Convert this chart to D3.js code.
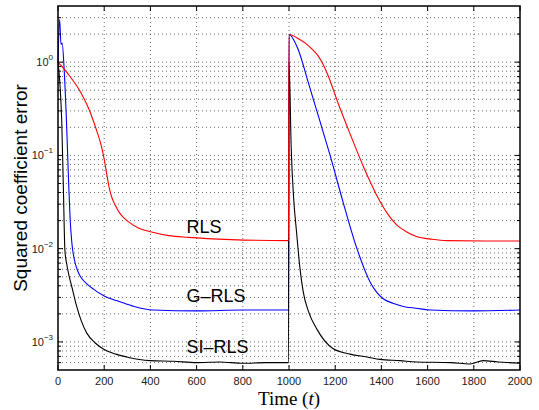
<!DOCTYPE html>
<html>
<head>
<meta charset="utf-8">
<script src="https://d3js.org/d3.v7.min.js"></script>
<style>
  body { margin: 0; background: #fff; }
  text { font-family: "Liberation Sans", Arial, sans-serif; }
</style>
</head>
<body>
<div id="chart"></div>
<script>
// data (time, squared coefficient error)
var rlsT = [0, 45, 95, 124, 143, 172, 190, 200, 210, 220, 232, 247, 265, 285, 304, 350, 405, 480, 564, 750, 998,
            1000, 1035, 1069, 1100, 1127, 1150, 1170, 1213, 1271, 1322, 1394, 1430, 1466, 1510, 1552, 1620, 1682, 1850, 2000];
var rlsV = [1.0, 0.74, 0.49, 0.355, 0.275, 0.17, 0.12, 0.091, 0.065, 0.047, 0.036, 0.0295, 0.0245, 0.0214, 0.0195, 0.0166, 0.0151, 0.0138, 0.0132, 0.0125, 0.0122,
            1.98, 1.82, 1.61, 1.38, 1.16, 0.92, 0.71, 0.36, 0.155, 0.076, 0.032, 0.023, 0.018, 0.0151, 0.0135, 0.0126, 0.0122, 0.0121, 0.0121];

var grlsT = [0, 7, 13, 18, 27, 38, 45, 52, 60, 70, 85, 100, 125, 152, 200, 268, 330, 411, 600, 800, 998,
             1000, 1040, 1084, 1127, 1178, 1235, 1293, 1351, 1380, 1408, 1450, 1495, 1550, 1610, 1800, 2000];
var grlsV = [1.0, 2.86, 1.55, 1.6, 0.8, 0.19, 0.06, 0.022, 0.0115, 0.0078, 0.0058, 0.0049, 0.0042, 0.0037, 0.0031, 0.0027, 0.0024, 0.0022, 0.00215, 0.0022, 0.0022,
             1.98, 1.36, 0.6, 0.265, 0.1, 0.031, 0.0102, 0.0044, 0.0034, 0.0029, 0.0026, 0.0024, 0.0023, 0.0022, 0.00215, 0.0022];

var sirlsT = [0, 8, 16, 23, 30, 38, 48, 60, 81, 100, 124, 160, 200, 250, 297, 398, 500, 600, 700, 800, 900, 998,
              1000, 1010, 1020, 1033, 1047, 1062, 1085, 1120, 1190, 1264, 1338, 1394, 1480, 1552, 1700, 1784, 1840, 1905, 2000];
var sirlsV = [1.0, 0.6, 0.24, 0.048, 0.0095, 0.0068, 0.0051, 0.0039, 0.0024, 0.0017, 0.00125, 0.00098, 0.00083, 0.00074, 0.00069, 0.00063, 0.00062, 0.0006, 0.00061, 0.00059, 0.0006, 0.0006,
              1.0, 0.11, 0.035, 0.0148, 0.0063, 0.0034, 0.0021, 0.00138, 0.00085, 0.00074, 0.00069, 0.00065, 0.00063, 0.00061, 0.0006, 0.00058, 0.00063, 0.00061, 0.00059];

var xTicks = [0, 200, 400, 600, 800, 1000, 1200, 1400, 1600, 1800, 2000];
var yMajor = [1e-3, 1e-2, 1e-1, 1];
var yLabels = ['\u22123', '\u22122', '\u22121', '0'];
var seriesNames = ['RLS', 'G\u2013RLS', 'SI\u2013RLS'];

// set up svg
var svgWidth = 539;
var svgHeight = 410;
var margin = { top: 6, right: 19, bottom: 40, left: 58 };
var width = svgWidth - margin.left - margin.right;
var height = svgHeight - margin.top - margin.bottom;

var svg = d3.select('#chart')
    .append('svg')
    .attr('width', svgWidth)
    .attr('height', svgHeight);

var chartGroup = svg.append('g')
    .attr('transform', `translate(${margin.left},${margin.top})`);

var xScale = d3.scaleLinear().domain([0, 2000]).range([0, width]);
var yScale = d3.scaleLog().domain([5e-4, 4]).range([height, 0]);

// minor log values inside the domain
var yMinor = [];
[1e-4, 1e-3, 1e-2, 1e-1, 1].forEach(function(d){
    for (var k = 2; k <= 9; k++) {
        var v = d * k;
        if (v > 5e-4 && v < 4) yMinor.push(v);
    }
});

// grid
var grid = chartGroup.append('g')
    .attr('stroke', '#444')
    .attr('stroke-width', 0.8)
    .attr('stroke-dasharray', '1,3');
grid.selectAll('.gx')
    .data(xTicks.slice(1, -1))
    .enter().append('line')
    .attr('x1', d => xScale(d)).attr('x2', d => xScale(d))
    .attr('y1', 0).attr('y2', height);
grid.selectAll('.gy')
    .data(yMajor.concat(yMinor))
    .enter().append('line')
    .attr('x1', 0).attr('x2', width)
    .attr('y1', d => yScale(d)).attr('y2', d => yScale(d));

// curves
var line = d3.line()
    .x(d => xScale(d[0]))
    .y(d => yScale(d[1]))
    .curve(d3.curveMonotoneX);

var series = [
    { t: grlsT, v: grlsV, color: '#0000ff' },
    { t: sirlsT, v: sirlsV, color: '#000000' },
    { t: rlsT, v: rlsV, color: '#ff0000' }
];
series.forEach(function(s){
    chartGroup.append('path')
        .datum(s.t.map((t, i) => [t, s.v[i]]))
        .attr('fill', 'none')
        .attr('stroke', s.color)
        .attr('stroke-width', 1.1)
        .attr('d', line);
});

// ticks (inside, on all four sides)
var ticks = chartGroup.append('g').attr('stroke', '#000').attr('stroke-width', 1);
xTicks.forEach(function(d){
    ticks.append('line').attr('x1', xScale(d)).attr('x2', xScale(d)).attr('y1', height).attr('y2', height - 5);
    ticks.append('line').attr('x1', xScale(d)).attr('x2', xScale(d)).attr('y1', 0).attr('y2', 5);
});
yMajor.forEach(function(d){
    ticks.append('line').attr('x1', 0).attr('x2', 5).attr('y1', yScale(d)).attr('y2', yScale(d));
    ticks.append('line').attr('x1', width).attr('x2', width - 5).attr('y1', yScale(d)).attr('y2', yScale(d));
});
yMinor.forEach(function(d){
    ticks.append('line').attr('x1', 0).attr('x2', 3).attr('y1', yScale(d)).attr('y2', yScale(d));
    ticks.append('line').attr('x1', width).attr('x2', width - 3).attr('y1', yScale(d)).attr('y2', yScale(d));
});

// frame
chartGroup.append('rect')
    .attr('width', width).attr('height', height)
    .attr('fill', 'none').attr('stroke', '#000').attr('stroke-width', 1.5);

// tick labels
chartGroup.selectAll('.xlab')
    .data(xTicks)
    .enter().append('text')
    .attr('x', d => xScale(d))
    .attr('y', height + 15)
    .attr('text-anchor', 'middle')
    .attr('font-size', 11)
    .attr('fill', '#222')
    .text(d => d);

var ylab = chartGroup.selectAll('.ylab')
    .data(yMajor)
    .enter().append('text')
    .attr('x', -5)
    .attr('y', d => yScale(d) + 4)
    .attr('text-anchor', 'end')
    .attr('font-size', 11)
    .attr('fill', '#222');
ylab.append('tspan').text('10');
ylab.append('tspan')
    .attr('dy', -6)
    .attr('font-size', 8)
    .text((d, i) => yLabels[i]);

// series labels
var labelPos = [[556, 0.0147], [556, 0.00268], [556, 0.00076]];
chartGroup.selectAll('.serieslab')
    .data(seriesNames)
    .enter().append('text')
    .attr('x', (d, i) => xScale(labelPos[i][0]))
    .attr('y', (d, i) => yScale(labelPos[i][1]))
    .attr('font-size', 18)
    .attr('fill', '#000')
    .text(d => d);

// axis labels
var xl = svg.append('text')
    .attr('x', margin.left + width / 2)
    .attr('y', 405)
    .attr('text-anchor', 'middle')
    .style('font-family', '"Liberation Serif", "DejaVu Serif", serif')
    .attr('font-size', 19);
xl.append('tspan').text('Time (');
xl.append('tspan').style('font-style', 'italic').text('t');
xl.append('tspan').text(')');

svg.append('text')
    .attr('transform', `translate(27, ${margin.top + height / 2}) rotate(-90)`)
    .attr('text-anchor', 'middle')
    .attr('font-size', 19)
    .text('Squared coefficient error');
</script>
</body>
</html>
